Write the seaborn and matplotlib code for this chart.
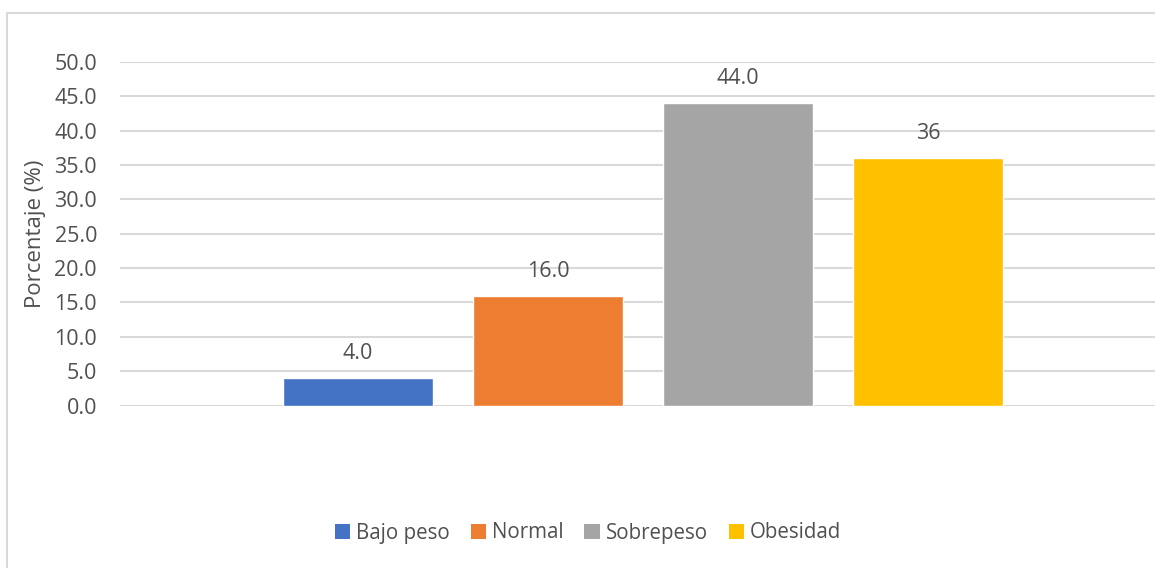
import matplotlib
matplotlib.use("Agg")
import matplotlib.pyplot as plt
from matplotlib.patches import Rectangle, Patch
import seaborn as sns
import pandas as pd

# Data
categorias = ["Bajo peso", "Normal", "Sobrepeso", "Obesidad"]
porcentajes = [4.0, 16.0, 44.0, 36.0]
etiquetas = ["4.0", "16.0", "44.0", "36"]
colores = ["#4472C4", "#ED7D31", "#A5A5A5", "#FFC000"]
yticks = [0, 5, 10, 15, 20, 25, 30, 35, 40, 45, 50]

sns.set_theme(style="white")
plt.rcParams["font.family"] = ["Open Sans", "DejaVu Sans"]

TXT = "#505050"
GRID = "#D9D9D9"
FS = 15.5

W, H = 1155, 568
fig = plt.figure(figsize=(W / 100, H / 100), dpi=100)

# Chart frame
fig.patches.append(Rectangle((7 / W, -0.1), 1.2, 1 - 13 / H + 0.1,
                             transform=fig.transFigure, fill=False,
                             edgecolor=GRID, linewidth=1.5))

left, right = 120 / W, 1166 / W
bottom, top = (H - 405.5) / H, (H - 62) / H
ax = fig.add_axes([left, bottom, right - left, top - bottom])

df = pd.DataFrame({"cat": categorias, "val": porcentajes})
sns.barplot(data=df, x="cat", y="val", hue="cat", palette=colores,
            width=0.79, saturation=1, legend=False, ax=ax, zorder=3)

ax.set_xlim(-1.253, 4.253)
ax.set_ylim(0, 50)
ax.set_yticks(yticks)
ax.set_yticklabels([f"{v:.1f}" for v in yticks], color=TXT, fontsize=FS)
ax.tick_params(axis="y", length=0, pad=16.5)
ax.set_xticks([])
ax.set_xlabel("")
ax.set_ylabel("Porcentaje (%)", color=TXT, fontsize=16, labelpad=6)
ax.yaxis.grid(True, color=GRID, linewidth=1.5, zorder=0)
for s in ax.spines.values():
    s.set_visible(False)

# Value labels above each bar
for p, txt in zip(ax.patches, etiquetas):
    ax.annotate(txt, (p.get_x() + p.get_width() / 2, p.get_height()),
                xytext=(0, 10), textcoords="offset points",
                ha="center", va="bottom", color=TXT, fontsize=FS)

handles = [Patch(facecolor=c, edgecolor="none") for c in colores]
fig.legend(handles, categorias, loc="center", bbox_to_anchor=(588 / W, 1 - 533 / H),
           ncol=4, frameon=False, fontsize=14.8, labelcolor=TXT,
           handlelength=0.75, handleheight=0.75, handletextpad=0.3,
           columnspacing=1.0)

fig.savefig("out.png", dpi=100)
